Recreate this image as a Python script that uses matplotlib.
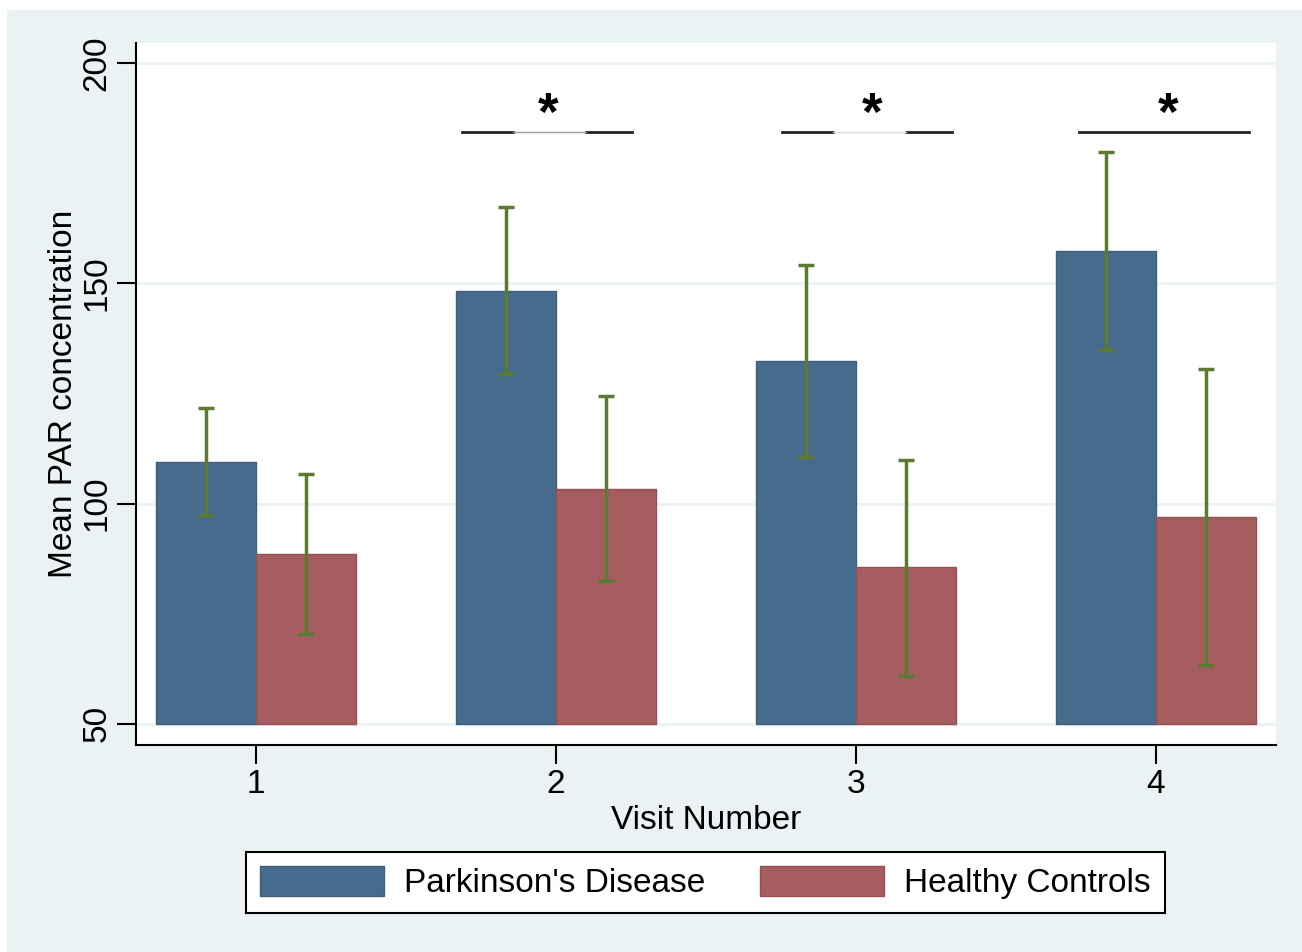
import matplotlib
matplotlib.use('Agg')
import matplotlib.pyplot as plt
from matplotlib.patches import Rectangle, Patch
import numpy as np

plt.rcParams['font.family'] = ['Liberation Sans', 'DejaVu Sans']

# Data
visits = [1, 2, 3, 4]
pd_mean = [109.5, 148.2, 132.3, 157.3]
pd_low = [97.5, 129.3, 110.5, 134.8]
pd_high = [121.6, 167.3, 154.1, 179.8]
hc_mean = [88.6, 103.4, 85.5, 97.0]
hc_low = [70.5, 82.5, 60.9, 63.4]
hc_high = [106.6, 124.3, 109.8, 130.5]
series_names = ["Parkinson's Disease", "Healthy Controls"]
# significance brackets (visit positions on the x scale)
sig_start = [1.687, 2.753, 3.743]
sig_end = [2.253, 3.320, 4.310]
sig_star_x = [1.973, 3.053, 4.040]
sig_level = 184.3
sig_star_y = 188.0
y_ticks = [50, 100, 150, 200]

pd_color = '#476B8C'
hc_color = '#A65D60'
err_color = '#5B7A32'
bg_color = '#EAF2F3'

W, H, dpi = 1302, 952, 100
fig = plt.figure(figsize=(W / dpi, H / dpi), dpi=dpi)
fig.patch.set_facecolor('white')
fig.patches.append(Rectangle((7 / W, 0), 1 - 7 / W, 1 - 10 / H, transform=fig.transFigure,
                             facecolor=bg_color, edgecolor='none', zorder=-10))

ax = fig.add_axes([136 / W, 1 - 745 / H, (1276 - 136) / W, (745 - 43) / H])
ax.set_facecolor('white')

x = np.array(visits, dtype=float)
bw = 1 / 3
base = 50
ax.bar(x - bw / 2, np.array(pd_mean) - base, bottom=base, width=bw, color=pd_color,
       edgecolor='#3E5E7E', linewidth=1, zorder=2)
ax.bar(x + bw / 2, np.array(hc_mean) - base, bottom=base, width=bw, color=hc_color,
       edgecolor='#964F52', linewidth=1, zorder=2)

def ci(xs, lo, hi):
    lo = np.array(lo)
    hi = np.array(hi)
    mid = (lo + hi) / 2
    ax.errorbar(xs, mid, yerr=[mid - lo, hi - mid], fmt='none', ecolor=err_color,
                elinewidth=2.5, capsize=6, capthick=2.5, zorder=3)

ci(x - bw / 2, pd_low, pd_high)
ci(x + bw / 2, hc_low, hc_high)

# significance markers
for i, (x0, x1, xs) in enumerate(zip(sig_start, sig_end, sig_star_x)):
    if i == 2:
        ax.plot([x0, x1], [sig_level, sig_level], color='#222222', lw=2, zorder=4)
    else:
        a, b = x0 + 0.17, x1 - 0.153
        ax.plot([x0, a], [sig_level, sig_level], color='#222222', lw=2, zorder=4)
        ax.plot([b, x1], [sig_level, sig_level], color='#222222', lw=2, zorder=4)
        ax.plot([a, b], [sig_level, sig_level], color='#999999' if i == 0 else '#dddddd',
                lw=1, zorder=4)
    ax.text(xs, sig_star_y, '*', ha='center', va='center',
            fontsize=38, fontweight='bold', zorder=4)

ax.set_xlim(0.6, 4.4)
ax.set_ylim(45.2, 204.5)
ax.set_yticks(y_ticks)
ax.set_yticklabels([str(t) for t in y_ticks], rotation=90, va='center')
ax.set_xticks(visits)
ax.grid(axis='y', color=bg_color, lw=2, zorder=0)
ax.set_axisbelow(True)
for s in ['top', 'right']:
    ax.spines[s].set_visible(False)
for s in ['left', 'bottom']:
    ax.spines[s].set_linewidth(1.5)
ax.tick_params(axis='both', length=14, width=1.5, labelsize=24)
ax.tick_params(axis='x', pad=3)
ax.tick_params(axis='y', pad=3)
ax.set_xlabel('Visit Number', fontsize=24, labelpad=4)
ax.set_ylabel('Mean PAR concentration', fontsize=24, labelpad=2)

handles = [Patch(facecolor=pd_color, edgecolor='#3E5E7E'),
           Patch(facecolor=hc_color, edgecolor='#964F52')]
leg = fig.legend(handles, series_names, loc='center', ncol=2,
                 bbox_to_anchor=(705.5 / W, 1 - 882.5 / H), fontsize=24,
                 frameon=True, fancybox=False, edgecolor='black', framealpha=1,
                 handlelength=3.72, handleheight=1.0, handletextpad=0.6,
                 columnspacing=1.65, borderpad=0.42)
leg.get_frame().set_linewidth(1.5)

fig.savefig('out.png', dpi=dpi, facecolor=fig.get_facecolor())
